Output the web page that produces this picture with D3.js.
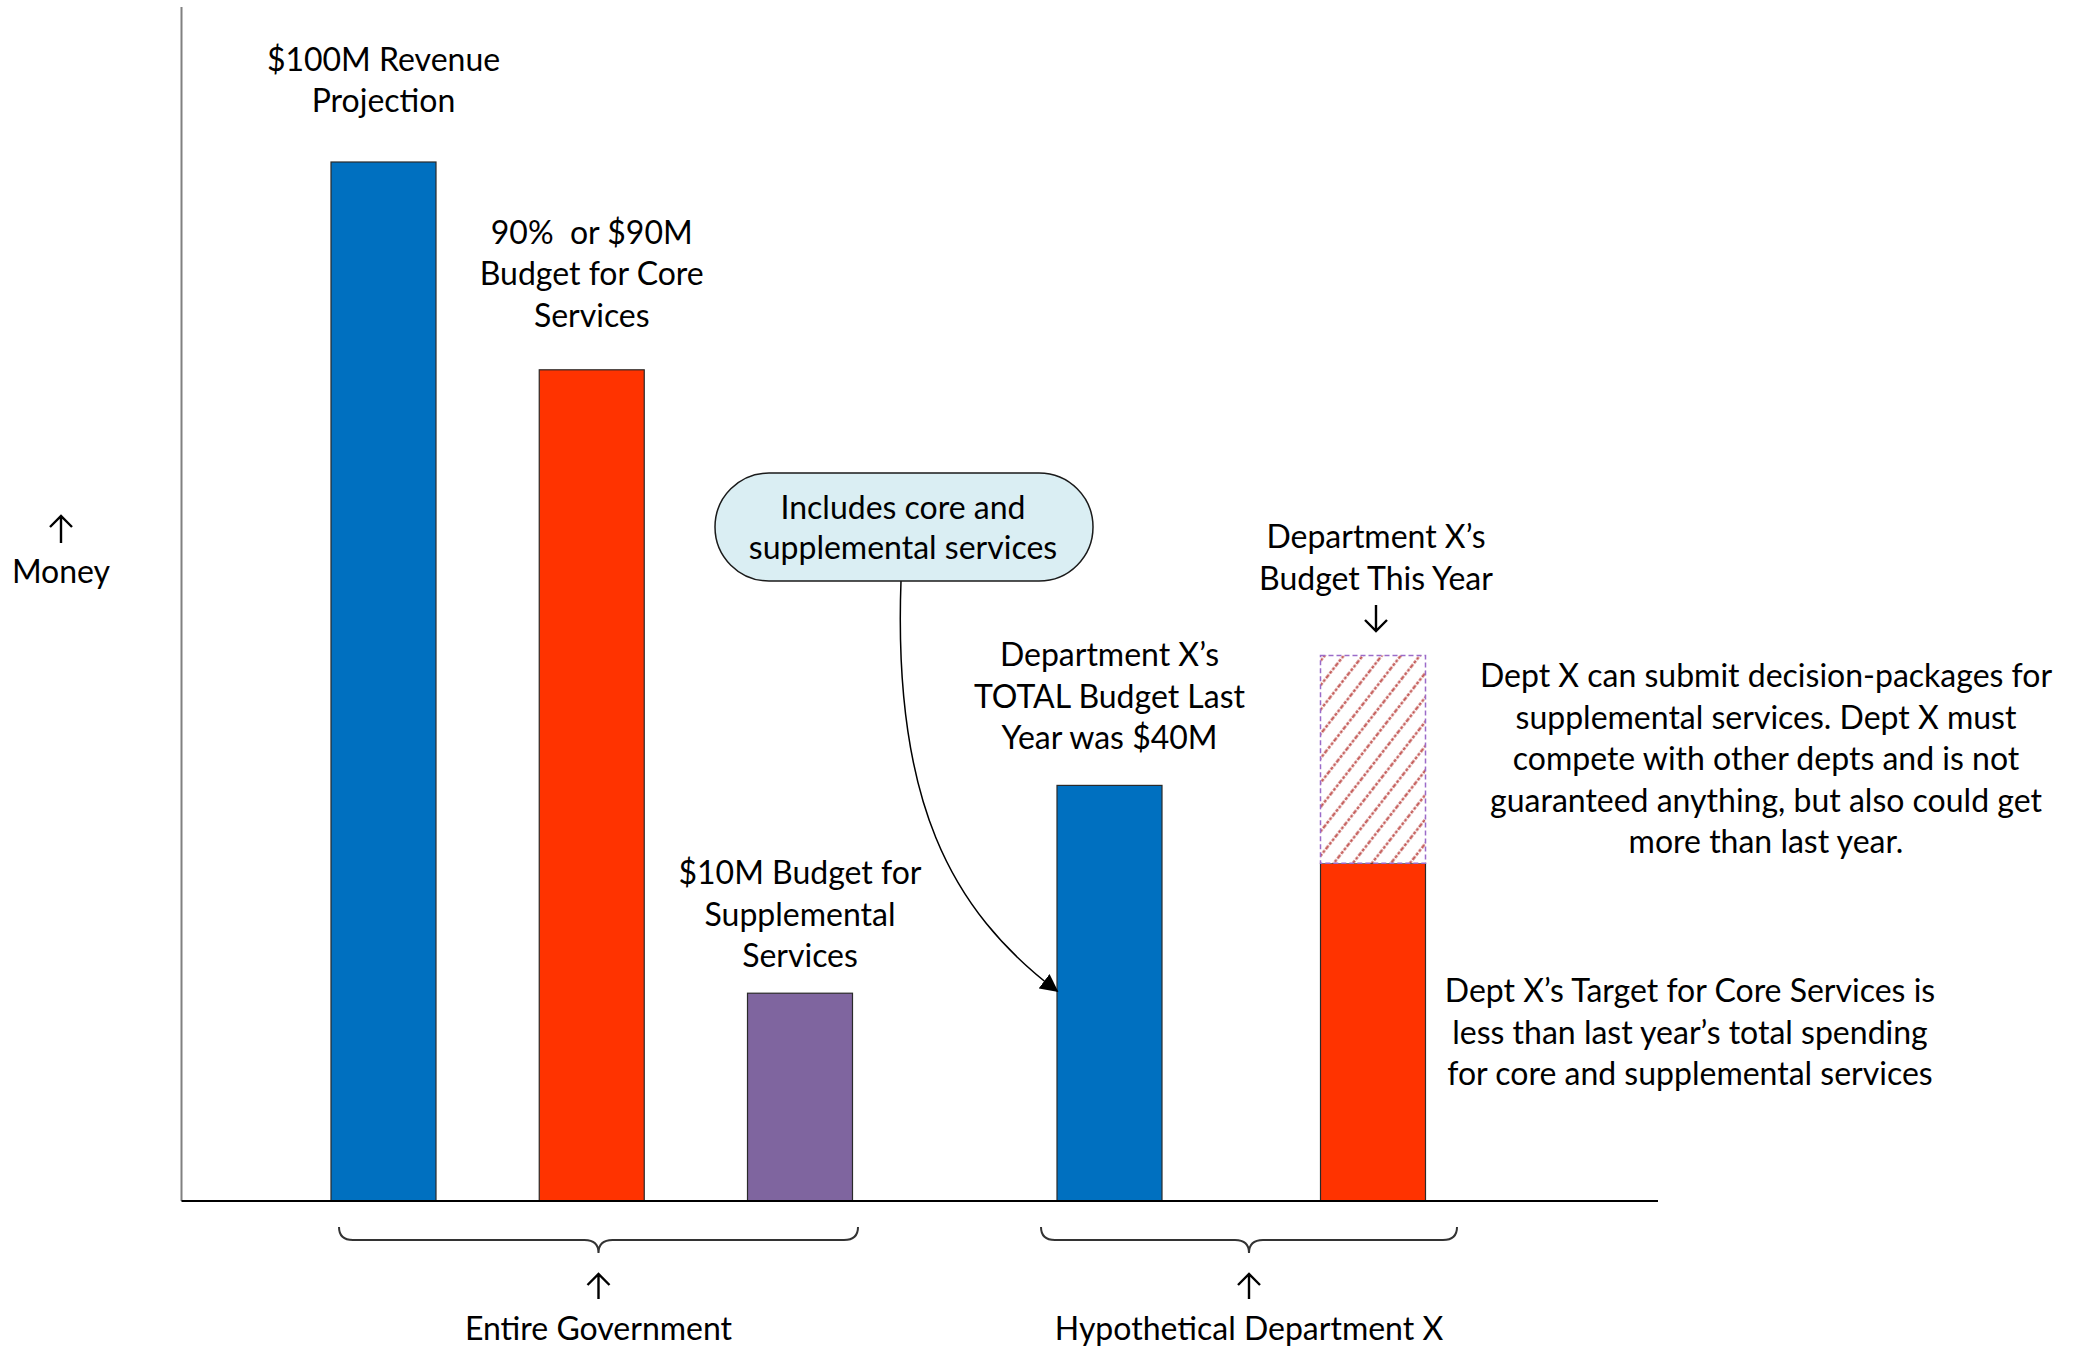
<!DOCTYPE html>
<html>
<head>
<meta charset="utf-8">
<script src="https://cdn.jsdelivr.net/npm/d3@7"></script>
<style>
  body { margin: 0; background: #fff; }
  text { font-family: Lato, "Open Sans", sans-serif; font-size: 32px; fill: #000; white-space: pre; }
</style>
</head>
<body>
<svg id="chart" width="2077" height="1349"></svg>
<script>
// ---- data ----
var barKeys = ["revenue", "core", "supplemental", "deptLastYear", "deptThisYear"];
var barGroupIdx = [0, 0, 0, 1, 1];
var groupNames = ["Entire Government", "Hypothetical Department X"];
var coreValues = [100, 80, 20, 40, 32.5];
var extraValues = [0, 0, 0, 0, 20];   // hatched part on top of Dept X this year
var barLabels = [
  ["$100M Revenue", "Projection"],
  ["90%  or $90M", "Budget for Core", "Services"],
  ["$10M Budget for", "Supplemental", "Services"],
  ["Department X\u2019s", "TOTAL Budget Last", "Year was $40M"],
  ["Department X\u2019s", "Budget This Year"]
];
var calloutLines = ["Includes core and", "supplemental services"];
var noteSupplemental = [
  "Dept X can submit decision-packages for",
  "supplemental services. Dept X must",
  "compete with other depts and is not",
  "guaranteed anything, but also could get",
  "more than last year."
];
var noteCore = [
  "Dept X\u2019s Target for Core Services is",
  "less than last year\u2019s total spending",
  "for core and supplemental services"
];
var yAxisLabel = "Money";

// ---- layout ----
var axisX = 181.5, baseY = 1201, axisTop = 7, axisRight = 1658;
var barW = 105, lineH = 41.5;
var labelGap = [61, 54, 37, 47, 77];

var svg = d3.select("#chart");

var y = d3.scaleLinear().domain([0, 100]).range([baseY, 162]);
var xGov = d3.scalePoint().domain([0, 1, 2]).range([383.5, 800]);
var xDept = d3.scalePoint().domain([3, 4]).range([1109.5, 1373]);
function xc(i) { return barGroupIdx[i] === 0 ? xGov(i) : xDept(i); }

var fill = d3.scaleOrdinal()
  .domain(barKeys)
  .range(["#0070C0", "#FF3300", "#7F659F", "#0070C0", "#FF3300"]);

var defs = svg.append("defs");
var hatch = defs.append("pattern")
  .attr("id", "hatch")
  .attr("patternUnits", "userSpaceOnUse")
  .attr("width", 15).attr("height", 15)
  .attr("patternTransform", "rotate(38)");
hatch.append("rect").attr("width", 15).attr("height", 15).attr("fill", "#fff");
hatch.append("line")
  .attr("x1", 7.5).attr("y1", 0).attr("x2", 7.5).attr("y2", 15)
  .attr("stroke", "#C0504D").attr("stroke-width", 2.2)
  .attr("stroke-dasharray", "3,1.5");

defs.append("marker")
  .attr("id", "arrowHead")
  .attr("viewBox", "0 0 10 10")
  .attr("refX", 9).attr("refY", 5)
  .attr("markerUnits", "userSpaceOnUse")
  .attr("orient", "auto")
  .attr("markerWidth", 18).attr("markerHeight", 18)
  .append("path")
  .attr("d", "M0,0 L10,5 L0,10 Z")
  .attr("fill", "#000");

// y axis
svg.append("line")
  .attr("x1", axisX).attr("y1", axisTop).attr("x2", axisX).attr("y2", baseY)
  .attr("stroke", "#808080").attr("stroke-width", 2);

// bars
var idx = d3.range(barKeys.length);
svg.append("g").selectAll("rect")
  .data(idx)
  .enter().append("rect")
  .attr("x", function(i) { return xc(i) - barW / 2; })
  .attr("y", function(i) { return y(coreValues[i]); })
  .attr("width", barW)
  .attr("height", function(i) { return y(0) - y(coreValues[i]); })
  .attr("fill", function(i) { return fill(barKeys[i]); })
  .attr("stroke", "#2a2a2a")
  .attr("stroke-width", 1.2);

svg.append("g").selectAll("rect")
  .data(idx.filter(function(i) { return extraValues[i] > 0; }))
  .enter().append("rect")
  .attr("x", function(i) { return xc(i) - barW / 2; })
  .attr("y", function(i) { return y(coreValues[i] + extraValues[i]); })
  .attr("width", barW)
  .attr("height", function(i) { return y(coreValues[i]) - y(coreValues[i] + extraValues[i]); })
  .attr("fill", "url(#hatch)")
  .attr("stroke", "#9B6BC9")
  .attr("stroke-width", 1.5)
  .attr("stroke-dasharray", "5,3");

// x axis
svg.append("line")
  .attr("x1", axisX).attr("y1", baseY).attr("x2", axisRight).attr("y2", baseY)
  .attr("stroke", "#000").attr("stroke-width", 2);

// simple open arrow (like the ↑ / ↓ glyphs)
function arrow(x, y1, y2) {
  var dir = y2 < y1 ? 1 : -1;
  svg.append("path")
    .attr("d", "M" + x + "," + y1 + " L" + x + "," + y2 +
      " M" + (x - 11) + "," + (y2 + dir * 11) + " L" + x + "," + y2 + " L" + (x + 11) + "," + (y2 + dir * 11))
    .attr("fill", "none").attr("stroke", "#000").attr("stroke-width", 2.4);
}

// bar labels
idx.forEach(function(i) {
  var top = y(coreValues[i] + extraValues[i]);
  var lines = barLabels[i];
  var lastC = top - labelGap[i];
  svg.append("text")
    .attr("text-anchor", "middle")
    .selectAll("tspan")
    .data(lines)
    .enter().append("tspan")
    .attr("x", xc(i) + (i === 4 ? 3 : 0))
    .attr("y", function(d, k) { return lastC - (lines.length - 1 - k) * lineH + 11; })
    .text(function(d) { return d; });
});
// arrow pointing down onto Dept X this year
arrow(xc(4) + 3, 605, 631);

// y label
arrow(61, 543, 516);
svg.append("text").attr("x", 61).attr("y", 583).attr("text-anchor", "middle").text(yAxisLabel);

// callout
var cb = { x: 715, y: 473, w: 378, h: 108 };
svg.append("path")
  .attr("d", "M901," + (cb.y + cb.h) + " C893,800 950,910 1057,991")
  .attr("fill", "none").attr("stroke", "#000").attr("stroke-width", 1.5)
  .attr("marker-end", "url(#arrowHead)");
svg.append("rect")
  .attr("x", cb.x).attr("y", cb.y).attr("width", cb.w).attr("height", cb.h)
  .attr("rx", cb.h / 2).attr("ry", cb.h / 2)
  .attr("fill", "#DAEEF3").attr("stroke", "#1a1a1a").attr("stroke-width", 1.5);
svg.append("text").attr("text-anchor", "middle")
  .selectAll("tspan").data(calloutLines).enter().append("tspan")
  .attr("x", cb.x + cb.w / 2 - 1)
  .attr("y", function(d, k) { return 519 + k * 40; })
  .text(function(d) { return d; });

// notes
function note(lines, cx, firstC) {
  svg.append("text").attr("text-anchor", "middle")
    .selectAll("tspan").data(lines).enter().append("tspan")
    .attr("x", cx)
    .attr("y", function(d, k) { return firstC + k * lineH + 11; })
    .text(function(d) { return d; });
}
note(noteSupplemental, 1766, 676);
note(noteCore, 1690, 991);

// group braces
var braceSpan = [[339, 858], [1041, 1457]];
var bTop = 1227, bMid = 1240, bBot = 1253, r = 14;
groupNames.forEach(function(g, gi) {
  var x1 = braceSpan[gi][0], x2 = braceSpan[gi][1], cx = (x1 + x2) / 2;
  svg.append("path")
    .attr("d", "M" + x1 + "," + bTop + " Q" + x1 + "," + bMid + " " + (x1 + r) + "," + bMid +
      " L" + (cx - r) + "," + bMid + " Q" + cx + "," + bMid + " " + cx + "," + bBot +
      " Q" + cx + "," + bMid + " " + (cx + r) + "," + bMid +
      " L" + (x2 - r) + "," + bMid + " Q" + x2 + "," + bMid + " " + x2 + "," + bTop)
    .attr("fill", "none").attr("stroke", "#333").attr("stroke-width", 2);
  arrow(cx, 1299, 1274);
  svg.append("text").attr("x", cx).attr("y", 1340).attr("text-anchor", "middle").text(g);
});
</script>
</body>
</html>
